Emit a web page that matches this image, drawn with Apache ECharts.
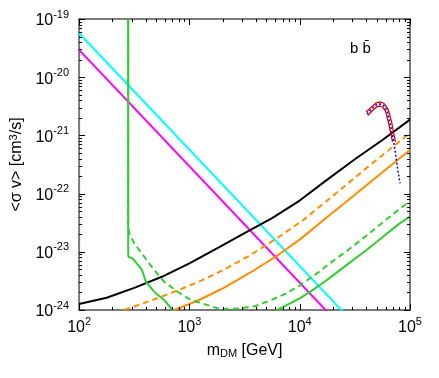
<!DOCTYPE html>
<html>
<head>
<meta charset="utf-8">
<script src="https://cdn.jsdelivr.net/npm/echarts@6/dist/echarts.min.js"></script>
<style>
html,body{margin:0;padding:0;background:#fff;}
#c{width:439px;height:378px;}
</style>
</head>
<body>
<div id="c"></div>
<script>
// ---- data (mass in GeV, <sigma v> in cm^3/s) ----
const massBlack = [100, 177.8, 316.2, 562.3, 1000, 1778, 3162, 5623, 10000, 17780, 31620, 56230, 100000];
const sigvBlack = [1.27e-24, 1.62e-24, 2.40e-24, 3.72e-24, 6.31e-24, 1.15e-23, 2.09e-23, 3.80e-23, 7.59e-23, 1.74e-22, 3.89e-22, 8.32e-22, 1.87e-21];

const massOrange = [726, 1000, 1265, 1995, 3548, 6310, 10000, 16480, 31620, 56230, 100000];
const sigvOrange = [1.0e-24, 1.27e-24, 1.53e-24, 2.34e-24, 4.37e-24, 8.71e-24, 1.62e-23, 3.52e-23, 9.55e-23, 2.32e-22, 5.62e-22];

const massOrangeDash = [256, 447, 794, 1265, 1995, 3548, 6310, 10790, 19950, 39810, 100000];
const sigvOrangeDash = [1.0e-24, 1.45e-24, 2.19e-24, 3.16e-24, 4.79e-24, 8.71e-24, 1.74e-23, 3.52e-23, 9.12e-23, 2.69e-22, 1.10e-21];

const massGreen = [278.6, 278.6, 280, 305.5, 363, 376.7, 402.7, 478.6, 590.2, 703, 891, 1259, 1995, 3162, 4467,
  6237, 7943, 10000, 12590, 15850, 19950, 28180, 39810, 56230, 79430, 100000];
const sigvGreen = [1e-19, 1.0e-23, 8.24e-24, 7.73e-24, 5.21e-24, 4.55e-24, 3.06e-24, 2.06e-24, 1.49e-24, 1.0e-24, 6.3e-25, 4.47e-25, 3.8e-25, 4.47e-25, 6.6e-25,
  1.0e-24, 1.26e-24, 1.58e-24, 2.09e-24, 2.82e-24, 3.89e-24, 6.46e-24, 1.05e-23, 1.78e-23, 3.02e-23, 4.01e-23];

const massGreenDash = [278.6, 278.6, 285.1, 316.2, 389, 478.6, 590.2, 780, 1028, 1560, 1919, 2911,
  3981, 5070, 7079, 10000, 14130, 19950, 28180, 39810, 56230, 79430, 100000];
const sigvGreenDash = [1e-19, 2.8e-23, 2.08e-23, 1.40e-23, 8.24e-24, 4.86e-24, 3.06e-24, 2.06e-24, 1.49e-24, 1.17e-24, 1.03e-24, 1.07e-24,
  1.17e-24, 1.39e-24, 1.82e-24, 2.63e-24, 4.17e-24, 6.92e-24, 1.12e-23, 1.86e-23, 3.16e-23, 5.37e-23, 7.41e-23];

const massCyan = [100, 100000];
const sigvCyan = [5.7e-20, 5.7e-26];

const massMagenta = [100, 100000];
const sigvMagenta = [2.95e-20, 2.95e-26];

const massBlue = [40640, 45390, 49320, 53580, 57540, 61520, 65920, 69820, 73110, 76740, 81280];
const sigvBlue = [2.33e-21, 2.90e-21, 3.33e-21, 3.47e-21, 3.27e-21, 2.73e-21, 1.61e-21, 9.51e-22, 5.61e-22, 2.90e-22, 1.50e-22];

const massRedUp = [39990, 45390, 49320, 53580, 58210, 63240, 68080, 71610, 73960];
const sigvRedUp = [2.52e-21, 3.14e-21, 3.61e-21, 3.78e-21, 3.53e-21, 2.84e-21, 1.70e-21, 1.02e-21, 7.71e-22];

const massRedLo = [41300, 45810, 49770, 53580, 57020, 60120, 63970, 67300, 69500];
const sigvRedLo = [2.20e-21, 2.68e-21, 3.08e-21, 3.20e-21, 3.01e-21, 2.58e-21, 1.63e-21, 1.02e-21, 7.71e-22];

const channelLabel = 'b b\u0304';
const xName = 'm{sub|DM} [GeV]';
const yName = '<σ v> [cm{sup|3}/s]';

const XMIN = 100, XMAX = 1e5, YMIN = 1e-24, YMAX = 1e-19;
const xLabelValues = [1e2, 1e3, 1e4, 1e5];
const yLabelValues = [1e-24, 1e-23, 1e-22, 1e-21, 1e-20, 1e-19];

// minor tick positions: 2..9 x each decade
function minorTicks(lo, hi) {
  const out = [];
  for (let e = lo; e < hi; e++) for (let k = 2; k <= 9; k++) out.push(k * Math.pow(10, e));
  return out;
}
const xMinorTicks = minorTicks(2, 5);
const yMinorTicks = minorTicks(-24, -19);

const pairs = (xs, ys) => xs.map((x, i) => [x, ys[i]]);
const FONT = 'Liberation Sans';

// layout
const W = 439, H = 378, GL = 78, GT = 19, GR = 29, GB = 68;

function powLabel(v) {
  const e = Math.round(Math.log10(v));
  return '{b|10}{s|' + e + '}';
}
const labelRich = {
  b: { fontSize: 16, fontFamily: FONT, color: '#000', lineHeight: 20, verticalAlign: 'bottom' },
  s: { fontSize: 11, fontFamily: FONT, color: '#000', verticalAlign: 'top' }
};

const chart = echarts.init(document.getElementById('c'), null, { renderer: 'canvas' });

function line(xs, ys, color, width, type, z) {
  return {
    type: 'line', data: pairs(xs, ys), showSymbol: false, symbol: 'none',
    clip: true, z: z || 2,
    lineStyle: { color: color, width: width, type: type || 'solid' },
    silent: true
  };
}

const labelGraphic = {
  type: 'text', left: 350, top: 41, z: 100,
  style: { text: channelLabel, fontSize: 15, fontFamily: FONT, fill: '#000' }
};

chart.setOption({
  animation: false,
  backgroundColor: '#fff',
  grid: { left: GL, top: GT, right: GR, bottom: GB, show: true, borderColor: '#7a7a7a', borderWidth: 2, backgroundColor: 'transparent' },
  xAxis: {
    type: 'log', logBase: 10, min: XMIN, max: XMAX,
    axisLine: { show: false }, splitLine: { show: false },
    axisTick: { show: false, customValues: xLabelValues },
    axisLabel: { margin: 6, formatter: powLabel, rich: labelRich, customValues: xLabelValues },
    name: xName, nameLocation: 'middle', nameGap: 32,
    nameTextStyle: { fontSize: 16, fontFamily: FONT, color: '#000', verticalAlign: 'top',
      rich: { sub: { fontSize: 11, fontFamily: FONT, verticalAlign: 'bottom', padding: [6, 0, 0, 0] } } }
  },
  yAxis: {
    type: 'log', logBase: 10, min: YMIN, max: YMAX,
    axisLine: { show: false }, splitLine: { show: false },
    axisTick: { show: false, customValues: yLabelValues },
    axisLabel: { margin: 10, formatter: powLabel, rich: labelRich, customValues: yLabelValues },
    name: yName, nameLocation: 'middle', nameGap: 54,
    nameTextStyle: { fontSize: 16, fontFamily: FONT, color: '#000',
      rich: { sup: { fontSize: 11, fontFamily: FONT, verticalAlign: 'top', padding: [0, 0, 6, 0] } } }
  },
  series: [
    line(massCyan, sigvCyan, '#00ffff', 2),
    line(massMagenta, sigvMagenta, '#ff00ff', 2),
    line(massBlack, sigvBlack, '#000000', 2),
    line(massOrangeDash, sigvOrangeDash, '#ff8c00', 2, [6, 4]),
    line(massOrange, sigvOrange, '#ff8c00', 2),
    line(massGreen, sigvGreen, '#33cc33', 2),
    line(massGreenDash, sigvGreenDash, '#33cc33', 2, [6, 4]),
    line(massRedUp, sigvRedUp, '#e00000', 1.3, 'solid', 3),
    line(massRedLo, sigvRedLo, '#e00000', 1.3, 'solid', 3),
    line(massBlue, sigvBlue, '#0000ff', 1.5, [2, 2], 4)
  ],
  graphic: [labelGraphic]
});

// ---- axis tick marks on all four sides, positioned through the chart's own axis scales ----
const pxPerDecX = (W - GL - GR) / Math.log10(XMAX / XMIN);
const pxPerDecY = (H - GT - GB) / Math.log10(YMAX / YMIN);
function toPx(x, y) {
  let p = null;
  try { p = chart.convertToPixel({ xAxisIndex: 0, yAxisIndex: 0 }, [x, y]); } catch (e) { p = null; }
  if (!p || !isFinite(p[0]) || !isFinite(p[1])) {
    p = [GL + Math.log10(x / XMIN) * pxPerDecX, GT + Math.log10(YMAX / y) * pxPerDecY];
  }
  return p;
}
const tickEls = [];
function addTick(x1, y1, x2, y2) {
  tickEls.push({ type: 'line', silent: true, z: 100,
    shape: { x1: x1, y1: y1, x2: x2, y2: y2 },
    style: { stroke: '#000', lineWidth: 1 } });
}
function xTicks(values, len) {
  values.forEach(v => {
    const pb = toPx(v, YMIN), pt = toPx(v, YMAX);
    const x = Math.round(pb[0]) + 0.5;
    addTick(x, pb[1], x, pb[1] - len);
    addTick(x, pt[1], x, pt[1] + len);
  });
}
function yTicks(values, len) {
  values.forEach(v => {
    const pl = toPx(XMIN, v), pr = toPx(XMAX, v);
    const y = Math.round(pl[1]) + 0.5;
    addTick(pl[0], y, pl[0] + len, y);
    addTick(pr[0], y, pr[0] - len, y);
  });
}
xTicks(xLabelValues, 6);
xTicks(xMinorTicks, 3);
yTicks(yLabelValues, 6);
yTicks(yMinorTicks, 3);

chart.setOption({ graphic: [labelGraphic].concat(tickEls) });
</script>
</body>
</html>
